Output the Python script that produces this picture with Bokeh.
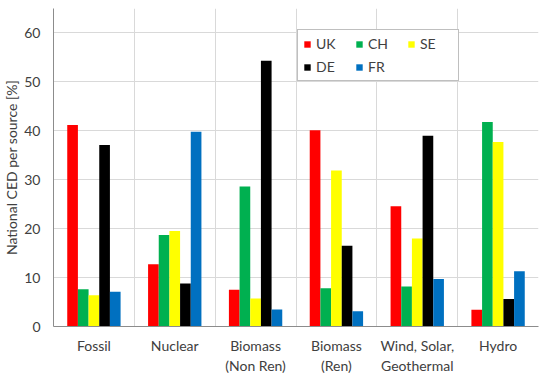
from bokeh.plotting import figure
from bokeh.models import ColumnDataSource, FixedTicker, Legend, LegendItem
from bokeh.transform import dodge
from bokeh.embed import file_html
from bokeh.resources import INLINE

categories = ["Fossil", "Nuclear", "Biomass\n(Non Ren)", "Biomass\n(Ren)",
              "Wind, Solar,\nGeothermal", "Hydro"]
countries = ["UK", "CH", "SE", "DE", "FR"]
uk = [41.2, 12.7, 7.5, 40.1, 24.6, 3.4]
ch = [7.6, 18.7, 28.6, 7.8, 8.2, 41.8]
se = [6.4, 19.5, 5.7, 31.9, 18.0, 37.7]
de = [37.1, 8.8, 54.3, 16.5, 39.0, 5.6]
fr = [7.1, 39.8, 3.5, 3.1, 9.7, 11.3]
colors = ["#FF0000", "#00B050", "#FFFF00", "#000000", "#0070C0"]
y_ticks = [0, 10, 20, 30, 40, 50, 60]

FONT = "Lato"
TXT = "#404040"

centers = [i + 0.5 for i in range(len(categories))]
src = ColumnDataSource(dict(x=centers, UK=uk, CH=ch, SE=se, DE=de, FR=fr))

p = figure(width=550, height=376, x_range=(0, 6), y_range=(0, 65),
           output_backend="svg", toolbar_location=None,
           min_border_left=53, min_border_right=12, min_border_top=8,
           min_border_bottom=49)
p.outline_line_color = None

bw = 0.132
offsets = [-2 * bw, -bw, 0, bw, 2 * bw]
renderers = []
for c, col, off in zip(countries, colors, offsets):
    r = p.vbar(x=dodge("x", off, range=p.x_range), top=c, width=bw, source=src,
               fill_color=col, line_color=None)
    renderers.append(r)

# axes
p.xaxis.ticker = FixedTicker(ticks=centers)
p.xaxis.major_label_overrides = {x: lab for x, lab in zip(centers, categories)}
p.yaxis.ticker = FixedTicker(ticks=y_ticks)
for ax in (p.xaxis[0], p.yaxis[0]):
    ax.major_tick_line_color = None
    ax.minor_tick_line_color = None
    ax.major_tick_out = 0
    ax.major_tick_in = 0
    ax.axis_line_color = "#8c8c8c"
    ax.axis_line_width = 1
    ax.major_label_text_font = FONT
    ax.major_label_text_font_size = "14px"
    ax.major_label_text_color = TXT
p.xaxis.major_label_standoff = 10
p.yaxis.major_label_standoff = 13
p.yaxis.axis_label = "National CED per source [%]"
p.yaxis.axis_label_text_font = FONT
p.yaxis.axis_label_text_font_size = "14px"
p.yaxis.axis_label_text_font_style = "normal"
p.yaxis.axis_label_text_color = TXT
p.yaxis.axis_label_standoff = 1

p.xgrid.ticker = FixedTicker(ticks=[1, 2, 3, 4, 5])
p.ygrid.ticker = FixedTicker(ticks=y_ticks[1:])
p.xgrid.grid_line_color = "#d9d9d9"
p.ygrid.grid_line_color = "#d9d9d9"

legend = Legend(items=[LegendItem(label=c, renderers=[r]) for c, r in zip(countries, renderers)],
                location=(244, 245), orientation="horizontal", ncols=3,
                glyph_width=8, glyph_height=8, label_standoff=5,
                label_width=33, label_height=17, spacing=6, padding=5,
                label_text_font=FONT, label_text_font_size="14px",
                label_text_color=TXT, border_line_color="#7f7f7f",
                border_line_width=1, background_fill_alpha=1, margin=0)
p.add_layout(legend)

open("out.html", "w").write(file_html(p, INLINE))
